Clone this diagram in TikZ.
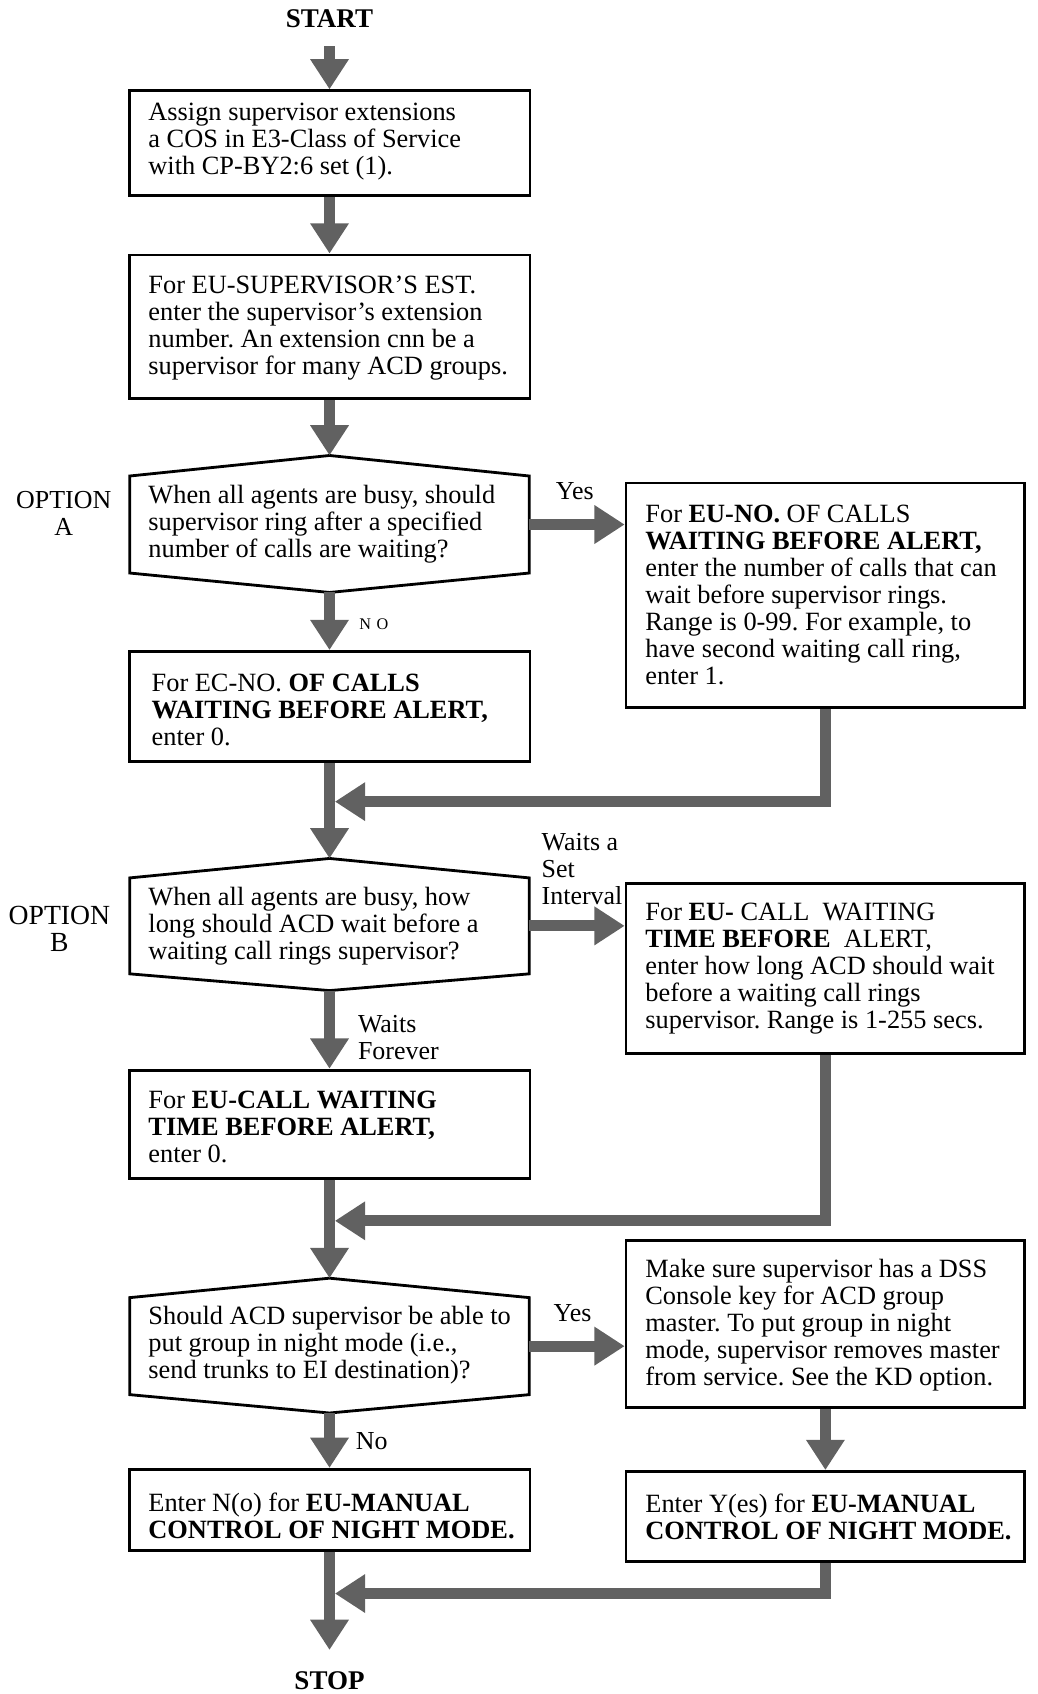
\documentclass[tikz,border=0pt]{standalone}
\usepackage{fontspec}
\setmainfont{Liberation Serif}
\usetikzlibrary{arrows.meta,calc}
\newcommand{\boxfont}{\fontsize{12.2}{12.5}\selectfont}
\newcommand{\lblfont}{\fontsize{12}{12.5}\selectfont}
\newcommand{\optBfont}{\fontsize{12.8}{12.5}\selectfont}
\newcommand{\termfont}{\fontsize{12.5}{14}\selectfont\bfseries}
\newcommand{\tinyfont}{\fontsize{7.5}{8}\selectfont}
\frenchspacing
\begin{document}
\begin{tikzpicture}[x=0.5pt,y=-0.5pt,
  box/.style={draw, line width=1.3pt, inner sep=0pt},
  dec/.style={inner sep=0pt},
  hexa/.style={draw, line width=1.3pt, line join=miter},
  txt/.style={anchor=west, align=left, inner sep=0pt, font=\boxfont},
  flow/.style={line width=5pt, draw=black!62, -{Triangle[width=17pt,length=14pt]}},
  lbl/.style={inner sep=0pt, font=\lblfont},
  term/.style={inner sep=0pt, font=\termfont}]

\useasboundingbox (0,0) rectangle (960,1568);

% terminals
\node[term] (start) at (305,17) {START};
\node[term] (stop) at (305,1556) {STOP};

% left column boxes
\node[box, minimum width=185.5pt, minimum height=48.5pt] (b1) at (305,132.5) {};
\node[box, minimum width=185.5pt, minimum height=66.5pt] (b2) at (305,302.5) {};
\node[box, minimum width=185.5pt, minimum height=51pt] (b3) at (305,654) {};
\node[box, minimum width=185.5pt, minimum height=50pt] (b5) at (305,1040.5) {};
\node[box, minimum width=185.5pt, minimum height=37.5pt] (b9) at (305,1397.5) {};

% right column boxes
\node[box, minimum width=184.5pt, minimum height=104pt] (b4) at (764,551) {};
\node[box, minimum width=184.5pt, minimum height=78.5pt] (b6) at (764,896.5) {};
\node[box, minimum width=184.5pt, minimum height=77.5pt] (b7) at (764,1225.5) {};
\node[box, minimum width=184.5pt, minimum height=41.5pt] (b8) at (764,1403.5) {};

% decisions
\node[dec, minimum width=184.5pt, minimum height=44.5pt] (dA) at (305,485.5) {};
\coordinate (dAn) at ([yshift=9.5pt]dA.north);
\coordinate (dAs) at ([yshift=-9pt]dA.south);
\draw[hexa] (dA.north west) -- (dAn) -- (dA.north east) -- (dA.south east) -- (dAs) -- (dA.south west) -- cycle;

\node[dec, minimum width=184.5pt, minimum height=44pt] (dB) at (305,857) {};
\coordinate (dBn) at ([yshift=9pt]dB.north);
\coordinate (dBs) at ([yshift=-7.75pt]dB.south);
\draw[hexa] (dB.north west) -- (dBn) -- (dB.north east) -- (dB.south east) -- (dBs) -- (dB.south west) -- cycle;

\node[dec, minimum width=184.5pt, minimum height=44.5pt] (dC) at (305,1246) {};
\coordinate (dCn) at ([yshift=9pt]dC.north);
\coordinate (dCs) at ([yshift=-8.5pt]dC.south);
\draw[hexa] (dC.north west) -- (dCn) -- (dC.north east) -- (dC.south east) -- (dCs) -- (dC.south west) -- cycle;

% texts
\node[txt] (b1x) at (137,131) {Assign supervisor extensions\\a COS in E3-Class of Service\\with CP-BY2:6 set (1).};
\node[txt] (b2x) at (137,303.5) {For EU-SUPERVISOR'S EST.\\enter the supervisor's extension\\number. An extension cnn be a\\supervisor for many ACD groups.};
\node[txt] (dAx) at (137,485.5) {When all agents are busy, should\\supervisor ring after a specified\\number of calls are waiting?};
\node[txt] (b3x) at (140,657) {For EC-NO. \textbf{OF CALLS}\\\textbf{WAITING BEFORE ALERT,}\\enter 0.};
\node[txt] (b4x) at (597,551) {For \textbf{EU-NO.} OF CALLS\\\textbf{WAITING BEFORE ALERT,}\\enter the number of calls that can\\wait before supervisor rings.\\Range is 0-99. For example, to\\have second waiting call ring,\\enter 1.};
\node[txt] (dBx) at (137,857.5) {When all agents are busy, how\\long should ACD wait before a\\waiting call rings supervisor?};
\node[txt] (b6x) at (597,896.5) {For \textbf{EU-} CALL\enspace WAITING\\\textbf{TIME BEFORE}\enspace ALERT,\\enter how long ACD should wait\\before a waiting call rings\\supervisor. Range is 1-255 secs.};
\node[txt] (b5x) at (137,1043.5) {For \textbf{EU-CALL WAITING}\\\textbf{TIME BEFORE ALERT,}\\enter 0.};
\node[txt] (dCx) at (137,1245) {Should ACD supervisor be able to\\put group in night mode (i.e.,\\send trunks to EI destination)?};
\node[txt] (b7x) at (597,1226.5) {Make sure supervisor has a DSS\\Console key for ACD group\\master. To put group in night\\mode, supervisor removes master\\from service. See the KD option.};
\node[txt] (b9x) at (137,1403) {Enter N(o) for \textbf{EU-MANUAL}\\\textbf{CONTROL OF NIGHT MODE.}};
\node[txt] (b8x) at (597,1404.5) {Enter Y(es) for \textbf{EU-MANUAL}\\\textbf{CONTROL OF NIGHT MODE.}};

% side labels
\node[lbl, align=center] (optA) at (59,475.5) {OPTION\\A};
\node[lbl, align=center, font=\optBfont] (optB) at (55,859.5) {OPTION\\B};
\node[lbl] (yesA) at (532,455) {Yes};
\node[inner sep=0pt, font=\tinyfont] (noA) at (346,578) {N\hspace{2.5pt}O};
\node[lbl, anchor=west, align=left] (wset) at (501,804) {Waits a\\Set\\Interval};
\node[lbl, anchor=west, align=left] (wfor) at (331,960.5) {Waits\\Forever};
\node[lbl] (yesC) at (530,1215) {Yes};
\node[lbl] (noC) at (344,1334) {No};

% merge points
\coordinate (mA) at (310,742);
\coordinate (mB) at (310,1130);
\coordinate (mC) at (310,1475);

% connectors
\draw[flow, shorten <=8.5pt] (start.south) -- (b1.north);
\draw[flow] (b1.south) -- (b2.north);
\draw[flow] (b2.south) -- (dAn);
\draw[flow] (dAs) -- (b3.north);
\draw[flow] (dA.east) -- (dA.east -| b4.west);
\draw[flow] (b4.south) |- (mA);
\draw[flow] (b3.south) -- (dBn);
\draw[flow] (dB.east) -- (dB.east -| b6.west);
\draw[flow] (b6.south) |- (mB);
\draw[flow] (dBs) -- (b5.north);
\draw[flow] (b5.south) -- (dCn);
\draw[flow] (dC.east) -- (dC.east -| b7.west);
\draw[flow] (b7.south) -- (b8.north);
\draw[flow] (b8.south) |- (mC);
\draw[flow] (dCs) -- (b9.north);
\draw[flow, shorten >=10pt] (b9.south) -- (stop.north);
\end{tikzpicture}
\end{document}
